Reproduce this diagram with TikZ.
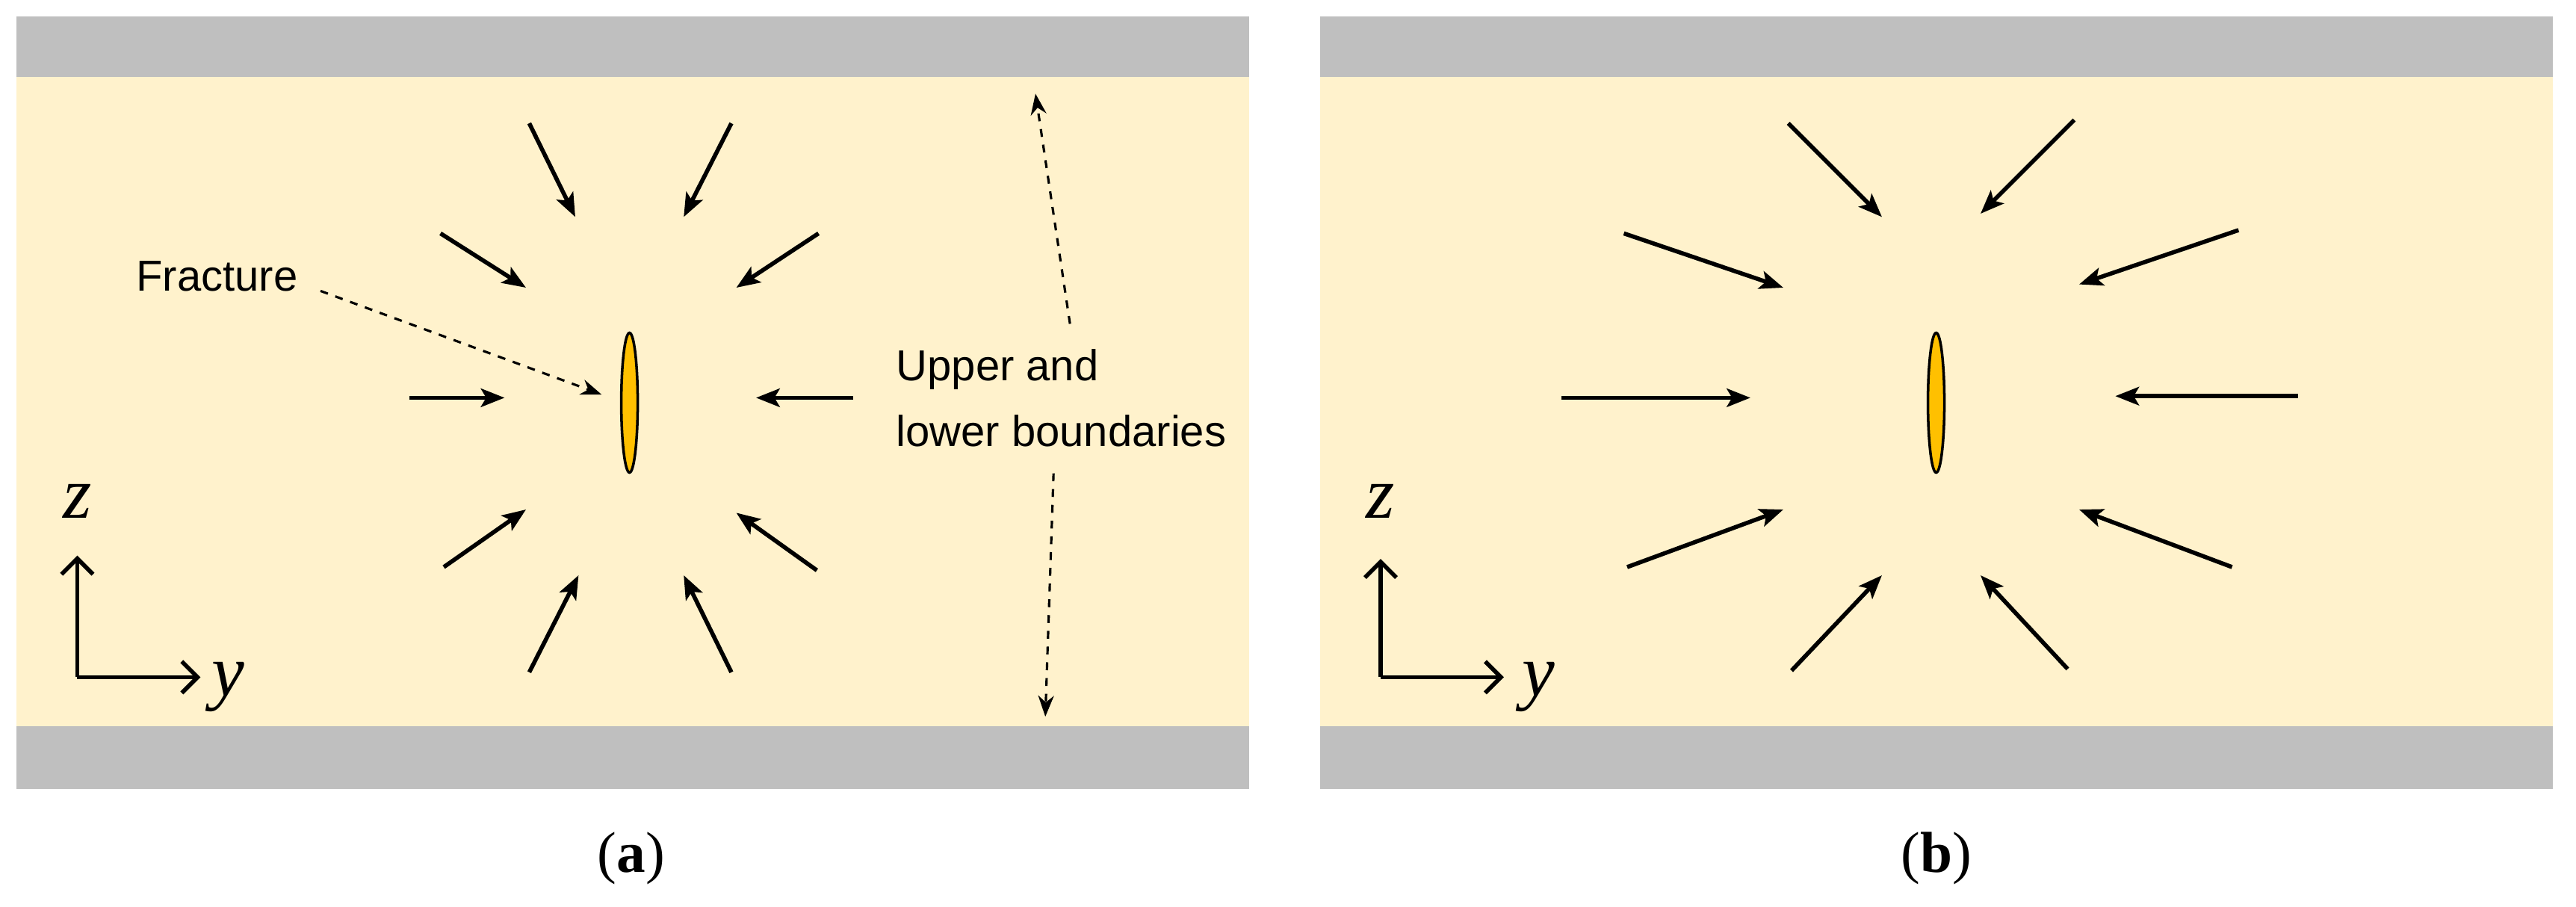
\documentclass[tikz,border=0pt]{standalone}
\usepackage{fontspec}
\setmainfont{Liberation Serif}
\newfontfamily\labelfont{Liberation Sans}
\usetikzlibrary{arrows.meta,shapes.geometric}
\definecolor{rock}{RGB}{191,191,191}
\definecolor{layer}{RGB}{255,242,204}
\definecolor{frac}{RGB}{255,192,0}
\tikzset{
  flow/.style={line width=1.6pt, -{Stealth[length=9pt,width=7pt,inset=2pt]}},
  guide/.style={line width=0.9pt, dashed, -{Stealth[length=8pt,width=6pt]}},
  axis/.style={line width=1.6pt, -{Straight Barb[length=6pt,width=12pt]}},
  txt/.style={font=\labelfont\fontsize{16.5}{19}\selectfont, inner sep=0pt},
  axlabel/.style={font=\fontsize{28}{30}\selectfont\itshape, inner sep=0pt}
}
\begin{document}
\begin{tikzpicture}[x=0.022cm, y=-0.022cm]
  \useasboundingbox (0,0) rectangle (1567.3,551.8);

  % Layers and boundaries
  \foreach \dx in {0,793} {
    \fill[rock]  (10+\dx,10)  rectangle (760+\dx,47);
    \fill[layer] (10+\dx,47)  rectangle (760+\dx,442);
    \fill[rock]  (10+\dx,442) rectangle (760+\dx,480);
  }

  % Panel (a)
  \node[draw, line width=1pt, fill=frac, ellipse, minimum width=10*0.022cm,
        minimum height=85*0.022cm, inner sep=0pt] (fa) at (383,245) {};
  \foreach \sx/\sy/\ex/\ey [count=\i] in {322/75/350/132, 445/75/416/132,
      268/142/320/175, 498/142/448/175, 249/242/307/242, 519/242/460/242,
      270/345/320/310, 497/347/448/312, 322/409/352/350, 445/409/416/350} {
    \coordinate (as\i) at (\sx,\sy);
    \coordinate (ae\i) at (\ex,\ey);
    \draw[flow] (as\i) -- (ae\i);
  }
  \node[txt] (fr) at (132,168) {Fracture};
  \coordinate (frs) at (195,177);
  \coordinate (fre) at (366,240);
  \draw[guide] (frs) -- (fre);
  \node[txt, anchor=west, align=left] (ub) at (545,242) {Upper and\\[6pt]lower boundaries};
  \coordinate (ubt) at (651,197);
  \coordinate (ubte) at (630,57);
  \coordinate (ubb) at (641,288);
  \coordinate (ubbe) at (636,436);
  \draw[guide] (ubt) -- (ubte);
  \draw[guide] (ubb) -- (ubbe);
  \coordinate (oa) at (47,412);
  \coordinate (za) at (47,338);
  \coordinate (ya) at (122,412);
  \draw[axis] (oa) -- (za);
  \draw[axis] (oa) -- (ya);
  \node[axlabel] (lza) at (47,305) {z};
  \node[axlabel] (lya) at (139,418) {y};
  \node[font=\fontsize{22}{26}\selectfont] (ca) at (384,522) {(\textbf{a})};

  % Panel (b)
  \node[draw, line width=1pt, fill=frac, ellipse, minimum width=10*0.022cm,
        minimum height=85*0.022cm, inner sep=0pt] (fb) at (1178,245) {};
  \foreach \sx/\sy/\ex/\ey [count=\i] in {1088/75/1145/132, 1262/73/1205/130,
      988/142/1085/175, 1362/140/1265/173, 950/242/1065/242, 1398/241/1287/241,
      990/345/1085/310, 1358/345/1265/310, 1090/408/1145/350, 1258/407/1205/350} {
    \coordinate (bs\i) at (\sx,\sy);
    \coordinate (be\i) at (\ex,\ey);
    \draw[flow] (bs\i) -- (be\i);
  }
  \coordinate (ob) at (840,412);
  \coordinate (zb) at (840,340);
  \coordinate (yb) at (915,412);
  \draw[axis] (ob) -- (zb);
  \draw[axis] (ob) -- (yb);
  \node[axlabel] (lzb) at (840,305) {z};
  \node[axlabel] (lyb) at (936,418) {y};
  \node[font=\fontsize{22}{26}\selectfont] (cb) at (1178,522) {(\textbf{b})};
\end{tikzpicture}
\end{document}
